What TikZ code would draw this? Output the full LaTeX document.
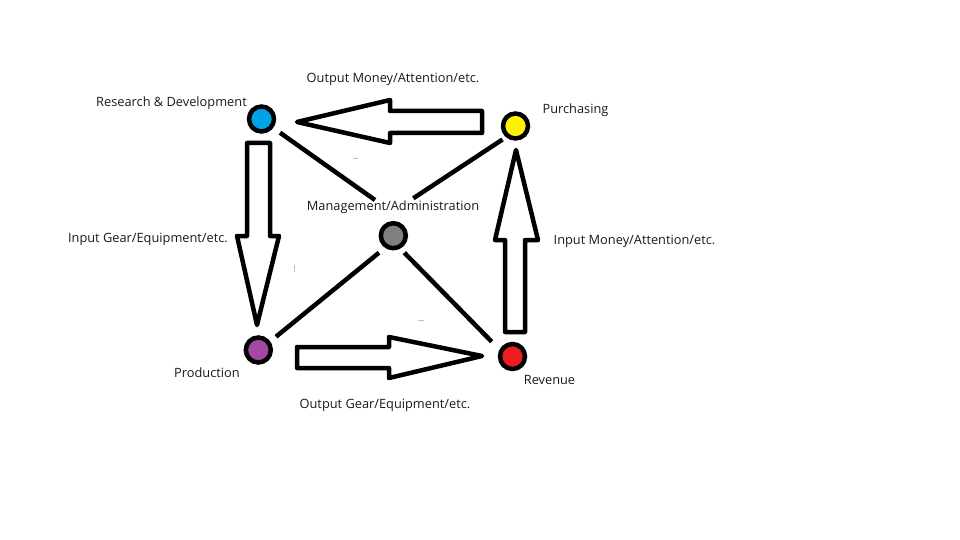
\documentclass[tikz,border=0pt]{standalone}
\usepackage{fontspec}
\setmainfont{Open Sans}
\begin{document}
\begin{tikzpicture}[x=1pt,y=-1pt,
  dot/.style={circle,draw=black,line width=4.5pt,minimum size=25pt,inner sep=0pt},
  lbl/.style={text=black!90,font=\fontsize{12.8}{15}\selectfont,inner sep=0pt},
  link/.style={line width=4.5pt},
  blockarrow/.style={draw=black,fill=white,line width=4.5pt,line join=round},
  speck/.style={draw=black!25,line width=1pt}]
\useasboundingbox (0,0) rectangle (960,540);
% circles
\node[dot,fill={rgb,255:red,0;green,162;blue,232}] (rd) at (261.5,119) {};
\node[dot,fill={rgb,255:red,255;green,242;blue,0}] (pu) at (515.5,126) {};
\node[dot,fill={rgb,255:red,127;green,127;blue,127}] (ma) at (393.3,235.7) {};
\node[dot,fill={rgb,255:red,163;green,73;blue,164}] (pr) at (258.3,350) {};
\node[dot,fill={rgb,255:red,237;green,28;blue,36}] (re) at (512.5,356.5) {};
% connector end points
\coordinate (rdA) at (280,132.7);
\coordinate (maA) at (375,200);
\coordinate (puA) at (502.5,139.5);
\coordinate (maB) at (413.3,198.3);
\coordinate (maC) at (379,252.7);
\coordinate (prA) at (276,336.7);
\coordinate (maD) at (404.3,252.7);
\coordinate (reA) at (491.7,341.7);
\draw[link] (rdA) -- (maA);
\draw[link] (puA) -- (maB);
\draw[link] (maC) -- (prA);
\draw[link] (maD) -- (reA);
% block arrows
\draw[blockarrow] (297,122) -- (390,100) -- (390,111) -- (482,111) -- (482,133) -- (390,133) -- (390,143) -- cycle;
\draw[blockarrow] (297,347) -- (389,347) -- (389,337) -- (482,356) -- (389,378) -- (389,368) -- (297,368) -- cycle;
\draw[blockarrow] (247,143) -- (270,143) -- (270,236) -- (279,236) -- (257,325) -- (237,236) -- (247,236) -- cycle;
\draw[blockarrow] (516,150) -- (538,240) -- (525,240) -- (525,332) -- (505,332) -- (505,240) -- (495,240) -- cycle;
% specks
\draw[speck] (353,158.3) -- (358,158.3);
\draw[speck] (418,320) -- (424,320);
\draw[speck] (294.3,265) -- (294.3,271.7);
% labels
\node[lbl] (t1) at (171.5,103.5) {Research \& Development};
\node[lbl] (t2) at (393,79.5) {Output Money/Attention/etc.};
\node[lbl] (t3) at (575.5,110.5) {Purchasing};
\node[lbl] (t4) at (393,207.5) {Management/Administration};
\node[lbl] (t5) at (148,239.5) {Input Gear/Equipment/etc.};
\node[lbl] (t6) at (634.5,241.5) {Input Money/Attention/etc.};
\node[lbl] (t7) at (207,372.5) {Production};
\node[lbl] (t8) at (549.5,379.5) {Revenue};
\node[lbl] (t9) at (385,405.5) {Output Gear/Equipment/etc.};
\end{tikzpicture}
\end{document}
